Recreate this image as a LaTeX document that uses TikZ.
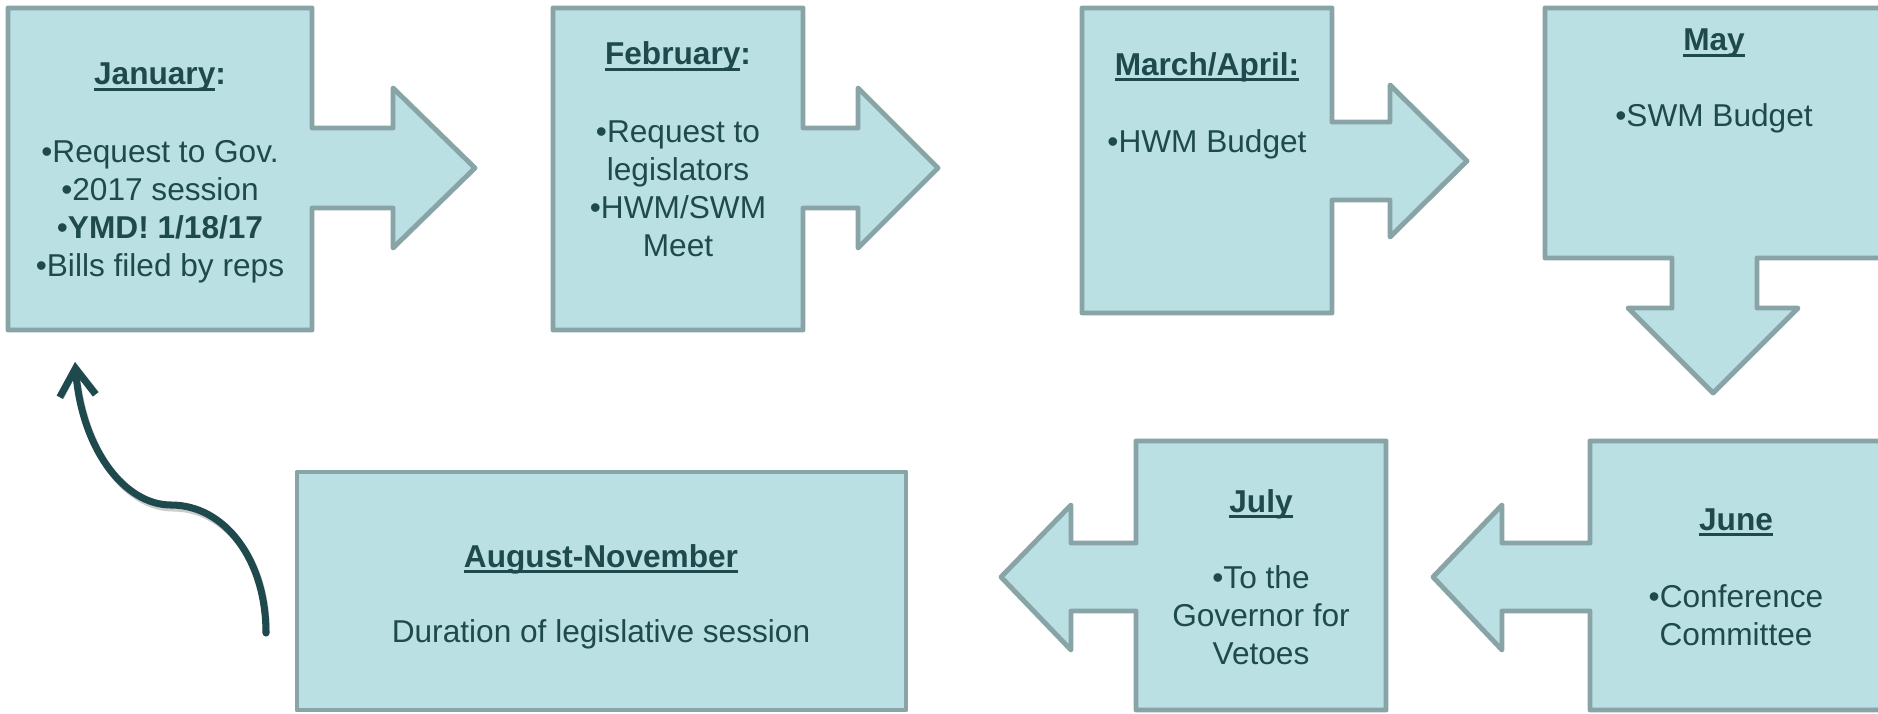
\documentclass[tikz,border=0pt]{standalone}
\usepackage{fontspec}
\setmainfont{Liberation Sans}
\usetikzlibrary{arrows.meta}

\definecolor{boxfill}{HTML}{BAE0E3}
\definecolor{boxline}{HTML}{88A4A6}
\definecolor{ink}{HTML}{1F4A4D}

\newcommand{\monthline}[1]{\setbox0\hbox{#1}\rlap{\rule[-3.2pt]{\wd0}{1.5pt}}\box0}

\tikzstyle{stage} = [draw=boxline, fill=boxfill, line width=2.8pt, line join=round]
\tikzstyle{month} = [font=\bfseries\fontsize{18}{21.6}\selectfont, text=ink, anchor=base, inner sep=0pt]
% multi-line items sit on the baseline of their last line
\tikzstyle{items} = [font=\fontsize{18}{21.6}\selectfont, text=ink, align=center, anchor=base, inner sep=0pt]
\tikzstyle{loop} = [draw=ink, line width=4pt, line cap=round, -{Straight Barb[length=0.55cm, width=0.72cm]}]

\begin{document}
\begin{tikzpicture}[x=0.02cm, y=-0.02cm]
  \useasboundingbox (0,0) rectangle (1878,713);

  % top row, left to right
  \draw [stage] (8,8) -- (312,8) -- (312,128) -- (393,128) -- (393,88) -- (475,168)
    -- (393,248) -- (393,208) -- (312,208) -- (312,330) -- (8,330) -- cycle;
  \draw [stage] (553,8) -- (803,8) -- (803,128) -- (858,128) -- (858,88) -- (938,168)
    -- (858,248) -- (858,208) -- (803,208) -- (803,330) -- (553,330) -- cycle;
  \draw [stage] (1082,8) -- (1332,8) -- (1332,122) -- (1390,122) -- (1390,85) -- (1467,161)
    -- (1390,237) -- (1390,200) -- (1332,200) -- (1332,313) -- (1082,313) -- cycle;
  \draw [stage] (1545,8) -- (1885,8) -- (1885,258) -- (1757,258) -- (1757,308) -- (1798,308)
    -- (1713,393) -- (1628,308) -- (1672,308) -- (1672,258) -- (1545,258) -- cycle;

  % bottom row, right to left
  \draw [stage] (1590,441) -- (1885,441) -- (1885,710) -- (1590,710) -- (1590,611) -- (1502,611)
    -- (1502,650) -- (1433,577) -- (1502,505) -- (1502,543) -- (1590,543) -- cycle;
  \draw [stage] (1136,441) -- (1386,441) -- (1386,710) -- (1136,710) -- (1136,611) -- (1071,611)
    -- (1071,650) -- (1001,577) -- (1071,505) -- (1071,543) -- (1136,543) -- cycle;
  \draw [stage] (297,472) rectangle (906,710);

  \node (jan) at (160,85) [month] {\monthline{January}:};
  \node (janitems) at (160,276) [items] {•Request to Gov.\\•2017 session\\•\textbf{YMD! 1/18/17}\\•Bills filed by reps};
  \node (feb) at (678,65) [month] {\monthline{February}:};
  \node (febitems) at (678,256) [items] {•Request to\\legislators\\•HWM/SWM\\Meet};
  \node (mar) at (1207,75) [month] {\monthline{March/April:}};
  \node (maritems) at (1207,153) [items] {•HWM Budget};
  \node (may) at (1714,51) [month] {\monthline{May}};
  \node (mayitems) at (1714,126) [items] {•SWM Budget};
  \node (jun) at (1736,530) [month] {\monthline{June}};
  \node (junitems) at (1736,645) [items] {•Conference\\Committee};
  \node (jul) at (1261,512) [month] {\monthline{July}};
  \node (julitems) at (1261,664) [items] {•To the\\Governor for\\Vetoes};
  \node (aug) at (601,567) [month] {\monthline{August-November}};
  \node (augitems) at (601,642) [items] {Duration of legislative session};

  % back to January
  \coordinate (loopstart) at (266,633);
  \coordinate (loopend) at (75,362);
  \draw [loop, draw=black!20, shift={(2,3)}] (loopstart) .. controls (266,560) and (225,505) .. (171,505)
    .. controls (125,505) and (82,450) .. (loopend);
  \draw [loop] (loopstart) .. controls (266,560) and (225,505) .. (171,505)
    .. controls (125,505) and (82,450) .. (loopend);
\end{tikzpicture}
\end{document}
